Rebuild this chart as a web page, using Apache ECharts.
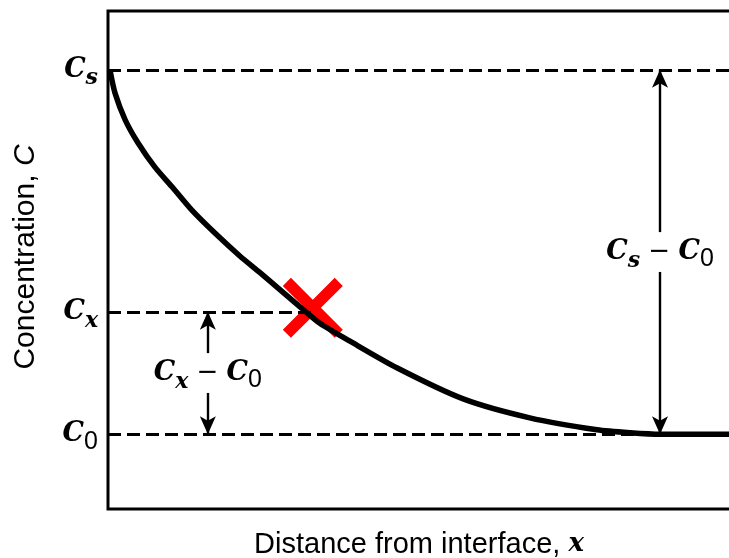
<!DOCTYPE html>
<html>
<head>
<meta charset="utf-8">
<script src="https://cdn.jsdelivr.net/npm/echarts@6/dist/echarts.min.js"></script>
<style>
html,body{margin:0;padding:0;background:#fff;}
#chart{width:729px;height:558px;}
</style>
</head>
<body>
<div id="chart"></div>
<script>
// Distance from interface (arbitrary units) and concentration (arbitrary units)
const distance = [0.3, 1.1, 2.7, 4.7, 7.3, 10.0, 13.1, 16.7, 20.6, 23.8, 26.9, 30.0, 33.1, 37.8, 45.2, 55.5, 65.9, 76.4, 81.6, 86.3, 100];
const concentration = [88.2, 83.5, 78.1, 73.5, 68.7, 64.7, 60.0, 55.4, 50.8, 47.4, 44.0, 40.6, 37.3, 33.7, 28.3, 22.1, 18.3, 15.9, 15.3, 15.0, 15.0];

// Reference levels: Cs, Cx, C0
const levelNames = ['Cs', 'Cx', 'C0'];
const levelValues = [88.2, 39.6, 15.0];
const levelEnds = [100, 31.9, 84];
const tickLabels = ['{c|C}{s|s}', '{c|C}{s|x}', '{c|C}{z|0}'];

// Point of interest (x, Cx)
const markerPoint = [32.0, 40.4];

// Difference annotations
const diffLabels = ['{c|C}{s|s}{m| \u2212 }{c|C}{z|0}', '{c|C}{s|x}{m| \u2212 }{c|C}{z|0}'];
const diffX = [86.25, 15.6];
const diffTop = [88.2, 39.6];
const diffBottom = [15.0, 15.0];
const diffGapTop = [55.6, 31.3];
const diffGapBottom = [47.6, 23.3];

const xTitle = 'Distance from interface, {i|x}';
const yTitle = 'Concentration, {i|C}';

const richLabel = {
  c: {fontFamily: 'DejaVu Serif', fontStyle: 'italic', fontWeight: 'bold', fontSize: 27, color: '#000', lineHeight: 40, verticalAlign: 'middle'},
  s: {fontFamily: 'DejaVu Serif', fontStyle: 'italic', fontWeight: 'bold', fontSize: 22, color: '#000', lineHeight: 20, verticalAlign: 'bottom'},
  z: {fontFamily: 'Liberation Sans', fontSize: 25, color: '#000', lineHeight: 20, verticalAlign: 'bottom'},
  m: {fontFamily: 'DejaVu Sans', fontSize: 26, color: '#000', lineHeight: 40, verticalAlign: 'middle'}
};

const chart = echarts.init(document.getElementById('chart'), null, {renderer: 'canvas'});

const levelLines = levelValues.map((v, i) => [
  {coord: [0, v]}, {coord: [levelEnds[i], v]}
]);

const arrowLines = [];
diffX.forEach((x, i) => {
  arrowLines.push([{coord: [x, diffGapTop[i]]}, {coord: [x, diffTop[i]]}]);
  arrowLines.push([{coord: [x, diffGapBottom[i]]}, {coord: [x, diffBottom[i]]}]);
});

const option = {
  animation: false,
  backgroundColor: '#fff',
  grid: {
    left: 108, top: 11, width: 640, height: 498,
    show: true, borderColor: '#000', borderWidth: 3, backgroundColor: 'transparent',
    outerBoundsMode: 'none'
  },
  xAxis: {
    type: 'value', min: 0, max: 100,
    axisLine: {show: false}, axisTick: {show: false}, axisLabel: {show: false}, splitLine: {show: false},
    name: xTitle, nameLocation: 'middle', nameGap: 21,
    nameTextStyle: {
      fontFamily: 'Liberation Sans', fontSize: 29, color: '#000', padding: [0, 18, 0, 0],
      rich: {i: {fontFamily: 'DejaVu Serif', fontStyle: 'italic', fontWeight: 'bold', fontSize: 26, color: '#000'}}
    }
  },
  yAxis: {
    type: 'value', min: 0, max: 100,
    axisLine: {show: false}, axisTick: {show: false}, splitLine: {show: false},
    axisLabel: {
      show: true, customValues: levelValues, margin: 10,
      formatter: function (val) {
        const idx = levelValues.indexOf(val);
        return idx >= 0 ? tickLabels[idx] : '';
      },
      rich: richLabel
    },
    name: yTitle, nameLocation: 'middle', nameGap: 67, nameRotate: 90,
    nameTextStyle: {
      fontFamily: 'Liberation Sans', fontSize: 30, color: '#000', padding: [0, 0, 0, 6],
      rich: {i: {fontFamily: 'Liberation Sans', fontStyle: 'italic', fontSize: 30, color: '#000'}}
    }
  },
  series: [
    {
      name: 'marker', type: 'scatter', z: 2, silent: true,
      symbol: 'path://M2.7,0 L10,7.3 L17.3,0 L20,2.7 L12.7,10 L20,17.3 L17.3,20 L10,12.7 L2.7,20 L0,17.3 L7.3,10 L0,2.7 Z',
      symbolSize: 60,
      itemStyle: {color: '#ff0000', opacity: 1},
      data: [markerPoint]
    },
    {
      name: 'levels', type: 'line', z: 1, silent: true, data: [],
      markLine: {
        silent: true, symbol: ['none', 'none'], label: {show: false},
        lineStyle: {color: '#000', width: 3, type: [13, 6]},
        emphasis: {disabled: true},
        data: levelLines
      }
    },
    {
      name: 'arrows', type: 'line', z: 4, silent: true, data: [],
      markLine: {
        silent: true, symbol: ['none', 'arrow'], symbolSize: [12, 18], label: {show: false},
        lineStyle: {color: '#000', width: 2.4, type: 'solid'},
        emphasis: {disabled: true},
        data: arrowLines
      }
    },
    {
      name: 'diffLabels', type: 'scatter', z: 5, silent: true,
      symbol: 'circle', symbolSize: 1, itemStyle: {color: 'rgba(0,0,0,0)', opacity: 1},
      label: {
        show: true, position: 'inside', align: 'center', verticalAlign: 'middle',
        formatter: function (p) { return diffLabels[p.dataIndex]; },
        rich: richLabel
      },
      data: diffX.map((x, i) => [x, (diffGapTop[i] + diffGapBottom[i]) / 2])
    },
    {
      name: 'profile', type: 'line', z: 3, silent: true,
      smooth: 0.25, showSymbol: false, symbol: 'none',
      lineStyle: {color: '#000', width: 5.5},
      data: distance.map((x, i) => [x, concentration[i]])
    }
  ]
};
chart.setOption(option);
</script>
</body>
</html>
